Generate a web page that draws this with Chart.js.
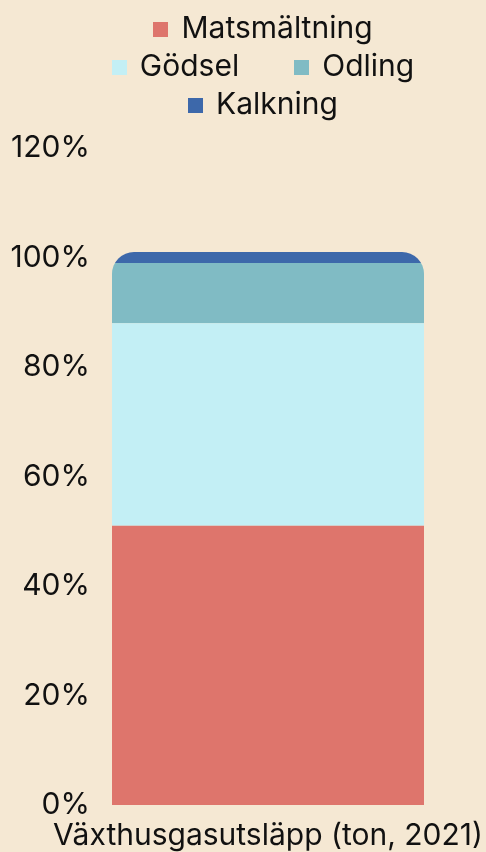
<!DOCTYPE html>
<html>
<head>
<meta charset="utf-8">
<script src="https://cdn.jsdelivr.net/npm/chart.js@4"></script>
<style>
    html, body {
        margin: 0;
        padding: 0;
        background: #F5E8D3;
        width: 486px;
        height: 852px;
        overflow: hidden;
        font-family: Inter, sans-serif;
        color: #111;
    }
    #wrap {
        position: relative;
        width: 486px;
        height: 852px;
    }
    #chart {
        position: absolute;
        left: 0;
        top: 0;
    }
    #legend {
        position: absolute;
        top: 8px;
        left: 40px;
        width: 446px;
        font-size: 30px;
    }
    .legend-row {
        height: 38px;
        display: flex;
        justify-content: center;
        align-items: center;
    }
    .legend-item {
        display: inline-flex;
        align-items: center;
        white-space: nowrap;
    }
    .legend-item + .legend-item {
        margin-left: 55px;
    }
    .legend-box {
        width: 15px;
        height: 15px;
        margin-right: 13px;
        margin-top: 4px;
    }
</style>
</head>
<body>
<div id="wrap">
    <canvas id="chart" width="486" height="852"></canvas>
    <div id="legend"></div>
</div>
<script>
    const categories = ['Växthusgasutsläpp (ton, 2021)'];

    // share of emissions, percent
    const matsmaltning = [51];
    const godsel = [37];
    const odling = [11];
    const kalkning = [2];

    const seriesLabels = ['Matsmältning', 'Gödsel', 'Odling', 'Kalkning'];
    const seriesColors = ['#DE756C', '#C3EFF5', '#80BBC4', '#3D68AA'];

    const yMax = 120;
    const yStep = 20;

    // which legend entries share a row
    const legendRows = [[0], [1, 2], [3]];

    const textColor = '#111';
    const font = { family: 'Inter, sans-serif', size: 30 };

    // clip the whole stack to one rounded top so the corners run across segments
    const roundedStack = {
        id: 'roundedStack',
        beforeDatasetsDraw(chart) {
            const first = chart.getDatasetMeta(0).data[0];
            const last = chart.getDatasetMeta(chart.data.datasets.length - 1).data[0];
            if (!first || !last) {
                return;
            }
            const left = first.x - first.width / 2;
            const top = last.y;
            const bottom = first.base;
            const r = 22;
            const ctx = chart.ctx;
            ctx.save();
            ctx.beginPath();
            ctx.roundRect(left, top, first.width, bottom - top, [r, r, 0, 0]);
            ctx.clip();
        },
        afterDatasetsDraw(chart) {
            chart.ctx.restore();
        },
    };

    const values = [matsmaltning, godsel, odling, kalkning];

    const chart = new Chart(document.getElementById('chart').getContext('2d'), {
        type: 'bar',
        data: {
            labels: categories,
            datasets: seriesLabels.map((label, i) => ({
                label: label,
                data: values[i],
                backgroundColor: seriesColors[i],
                borderWidth: 0,
                categoryPercentage: 1,
                barPercentage: 0.907,
            })),
        },
        options: {
            responsive: false,
            animation: false,
            layout: {
                padding: { top: 148, right: 46, bottom: 0, left: 0 },
            },
            plugins: {
                legend: { display: false },
                tooltip: { enabled: false },
            },
            scales: {
                x: {
                    stacked: true,
                    grid: { display: false, drawTicks: false },
                    border: { display: false },
                    ticks: {
                        color: textColor,
                        font: font,
                        maxRotation: 0,
                        autoSkip: false,
                        padding: 13,
                    },
                    afterFit: (axis) => {
                        // the long label may overhang the plot, keep the bar where it is
                        axis.height = 47;
                        axis.paddingLeft = 0;
                        axis.paddingRight = 0;
                    },
                },
                y: {
                    stacked: true,
                    min: 0,
                    max: yMax,
                    grid: { display: false, drawTicks: false },
                    border: { display: false },
                    ticks: {
                        stepSize: yStep,
                        color: textColor,
                        font: font,
                        padding: 6,
                        callback: (v) => v + '%',
                    },
                    afterFit: (axis) => {
                        axis.width = 96;
                        axis.paddingTop = 0;
                        axis.paddingBottom = 0;
                    },
                },
            },
        },
        plugins: [roundedStack],
    });

    // legend as plain html so the rows can be grouped
    const legendEl = document.getElementById('legend');
    legendRows.forEach((row) => {
        const rowEl = document.createElement('div');
        rowEl.className = 'legend-row';
        row.forEach((i) => {
            const item = document.createElement('span');
            item.className = 'legend-item';
            const box = document.createElement('span');
            box.className = 'legend-box';
            box.style.background = seriesColors[i];
            const text = document.createElement('span');
            text.textContent = seriesLabels[i];
            item.appendChild(box);
            item.appendChild(text);
            rowEl.appendChild(item);
        });
        legendEl.appendChild(rowEl);
    });
</script>
</body>
</html>
